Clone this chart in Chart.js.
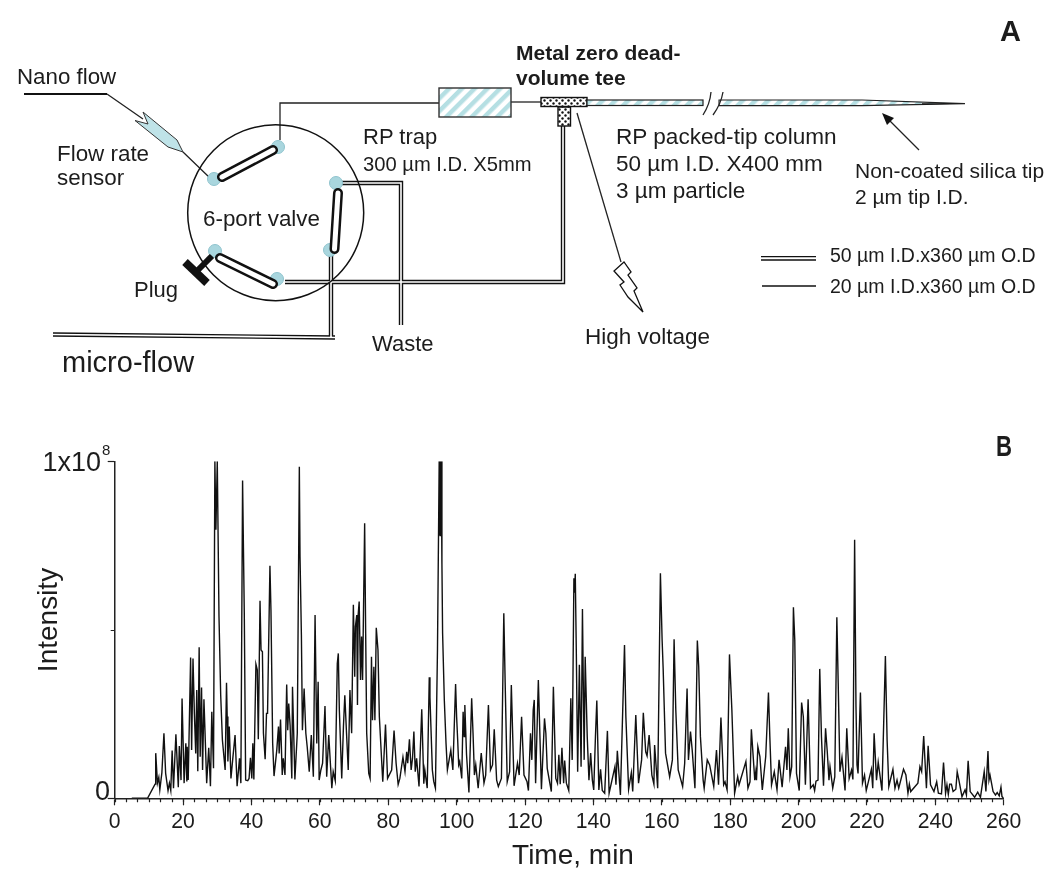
<!DOCTYPE html>
<html>
<head>
<meta charset="utf-8">
<title>Nano LC system and base peak chromatogram</title>
<script src="https://cdn.jsdelivr.net/npm/chart.js@4/dist/chart.umd.min.js"></script>
<style>
    html, body { margin: 0; padding: 0; background: #fff; }
    #page { position: relative; width: 1050px; height: 879px; overflow: hidden; }
    #chromatogram { position: absolute; left: 0; top: 0; }
    #schematic { position: absolute; left: 0; top: 0; }
    #schematic text { font-family: "Liberation Sans", Arial, sans-serif; fill: #1c1c1c; font-size: 22px; }
    .thin { fill: none; stroke: #222; stroke-width: 1.3; }
    .slot-o { fill: none; stroke: #111; stroke-width: 10; stroke-linecap: round; }
    .slot-i { fill: none; stroke: #fff; stroke-width: 5; stroke-linecap: round; }
    .port { fill: #a9d6de; stroke: #8fc3cd; stroke-width: 1; }
</style>
</head>
<body>
<div id="page">
    <canvas id="chromatogram" width="1050" height="879"></canvas>

    <!-- Panel A: plumbing diagram, not data -->
    <svg id="schematic" width="1050" height="879" viewBox="0 0 1050 879">
        <defs>
            <pattern id="hatch" width="9" height="9" patternUnits="userSpaceOnUse" patternTransform="rotate(45)">
                <rect width="4.5" height="9" fill="#b5dfe3"></rect>
            </pattern>
            <pattern id="stipple" width="6" height="6" patternUnits="userSpaceOnUse">
                <circle cx="1.5" cy="1.5" r="1.2" fill="#111"></circle>
                <circle cx="4.5" cy="4.5" r="1.2" fill="#111"></circle>
            </pattern>
            <path id="tubes" d="M340 183H401V325 M331 255V338 M53 334.5L335 337.5 M285 282H563V126"></path>
        </defs>

        <text x="1000" y="41" style="font-size:29px;font-weight:bold">A</text>
        <text x="996" y="456" textLength="16" lengthAdjust="spacingAndGlyphs" style="font-size:29px;font-weight:bold">B</text>

        <!-- nano flow line and flow sensor -->
        <path d="M24 94H107" fill="none" stroke="#111" stroke-width="2"></path>
        <path class="thin" d="M107 94L143 119 M183 152L210 178"></path>
        <path d="M135 120.5L148 124L143 112L177 140L183 152L168 147Z" fill="#bfe3e8" stroke="#333" stroke-width="1"></path>
        <text x="17" y="84" style="font-size:22.3px">Nano flow</text>
        <text x="57" y="161" style="font-size:22.4px">Flow rate</text>
        <text x="57" y="185" style="font-size:22.4px">sensor</text>

        <!-- tubing -->
        <use href="#tubes" fill="none" stroke="#111" stroke-width="4.4"></use>
        <use href="#tubes" fill="none" stroke="#fff" stroke-width="1.6"></use>
        <path class="thin" d="M280 140V103H439"></path>
        <path class="thin" d="M511 102H541"></path>

        <!-- 6-port valve -->
        <circle cx="275.7" cy="212.7" r="88" fill="none" stroke="#111" stroke-width="1.5"></circle>
        <circle class="port" cx="214" cy="179" r="6.5"></circle>
        <circle class="port" cx="278" cy="147" r="6.5"></circle>
        <circle class="port" cx="336" cy="183" r="6.5"></circle>
        <circle class="port" cx="330" cy="250" r="6.5"></circle>
        <circle class="port" cx="215" cy="251" r="6.5"></circle>
        <circle class="port" cx="277" cy="279" r="6.5"></circle>
        <path class="slot-o" d="M222 177L273 150 M338 193L334.5 249 M220 258L273 284"></path>
        <path class="slot-i" d="M222 177L273 150 M338 193L334.5 249 M220 258L273 284"></path>
        <path d="M185 262L207 283" fill="none" stroke="#111" stroke-width="8"></path>
        <path d="M197 271L212 256" fill="none" stroke="#111" stroke-width="6"></path>
        <text x="203" y="226" style="font-size:22.4px">6-port valve</text>
        <text x="134" y="297">Plug</text>
        <text x="363" y="144">RP trap</text>
        <text x="363" y="171" style="font-size:20.2px">300 µm I.D. X5mm</text>
        <text x="372" y="351">Waste</text>
        <text x="62" y="372" style="font-size:29px">micro-flow</text>

        <!-- trap, tee and column -->
        <rect x="439" y="88" width="72" height="29" fill="url(#hatch)" stroke="#333" stroke-width="1.4"></rect>
        <rect x="541" y="97.5" width="46" height="9" fill="url(#stipple)" stroke="#111" stroke-width="1.4"></rect>
        <rect x="558" y="107" width="12.5" height="19" fill="url(#stipple)" stroke="#111" stroke-width="1.4"></rect>
        <rect x="587" y="100" width="116" height="5.5" fill="url(#hatch)" stroke="#222" stroke-width="1.2"></rect>
        <path d="M719 100H862L965 103.6L862 105.6H719Z" fill="url(#hatch)" stroke="#222" stroke-width="1.1"></path>
        <path d="M922 103.2L965 103.7L922 104.6Z" fill="#111"></path>
        <path class="thin" d="M703 115Q710 104 711 92 M713 115Q721 104 723 92"></path>
        <text x="516" y="60" style="font-size:21px;font-weight:bold">Metal zero dead-</text>
        <text x="516" y="85" style="font-size:21px;font-weight:bold">volume tee</text>
        <text x="616" y="144" style="font-size:22.6px">RP packed-tip column</text>
        <text x="616" y="171" style="font-size:22.5px">50 µm I.D. X400 mm</text>
        <text x="616" y="198" style="font-size:22.5px">3 µm particle</text>

        <!-- tip arrow -->
        <path class="thin" d="M919 150L886 117"></path>
        <path d="M882 113L894 118L887 125Z" fill="#111"></path>
        <text x="855" y="178" style="font-size:21px">Non-coated silica tip</text>
        <text x="855" y="204" style="font-size:21px">2 µm tip I.D.</text>

        <!-- high voltage -->
        <path class="thin" d="M577 113L621 262"></path>
        <path d="M624 262L614 271L624 282L620 285L628 297L643 312L634 291L637 288L628 275L631 272Z" fill="#fff" stroke="#111" stroke-width="1.3"></path>
        <text x="585" y="344" style="font-size:22.5px">High voltage</text>

        <!-- tube legend -->
        <path d="M761 256.6H816 M761 260H816" fill="none" stroke="#111" stroke-width="1.4"></path>
        <path d="M762 286H816" fill="none" stroke="#111" stroke-width="1.3"></path>
        <text x="830" y="262" style="font-size:19.5px">50 µm I.D.x360 µm O.D</text>
        <text x="830" y="293" style="font-size:19.5px">20 µm I.D.x360 µm O.D</text>
    </svg>
</div>

<script>
// Elution time in minutes
const timeMin = [
    5.0, 9.6, 11.8, 12.0, 12.5, 12.9, 13.2, 13.8, 14.4, 14.9, 15.6, 16.0, 16.4, 16.8, 17.2, 17.9, 18.6, 18.9, 19.4, 19.7,
    20.3, 20.8, 21.1, 21.2, 21.5, 22.2, 22.5, 22.9, 23.3, 23.7, 24.0, 24.3, 24.7, 25.0, 25.4, 25.7, 26.1, 26.9, 27.5, 28.0,
    28.4, 28.9, 29.3, 29.6, 30.0, 30.5, 31.0, 31.5, 32.3, 32.7, 32.9, 33.1, 33.5, 34.0, 34.5, 35.2, 35.8, 36.5, 36.9, 37.4,
    37.9, 38.3, 38.9, 39.3, 39.7, 40.1, 40.4, 40.7, 41.3, 41.7, 42.0, 42.5, 42.8, 43.2, 43.5, 44.0, 44.4, 44.7, 45.4, 45.7,
    46.2, 46.6, 47.4, 47.9, 48.1, 48.5, 49.0, 49.3, 49.8, 50.3, 50.6, 50.9, 51.3, 51.8, 52.0, 52.7, 53.4, 54.0, 54.2, 54.6,
    54.9, 55.4, 55.9, 56.3, 56.9, 57.5, 58.1, 58.6, 59.1, 59.5, 59.8, 60.3, 60.8, 61.5, 62.0, 62.6, 63.5, 63.9, 64.5, 65.1,
    65.4, 65.7, 66.4, 66.9, 67.3, 67.8, 68.3, 68.8, 69.3, 69.8, 70.2, 70.4, 70.8, 71.0, 71.2, 71.5, 71.9, 72.2, 72.5, 73.1,
    73.4, 73.7, 74.3, 74.7, 75.1, 75.4, 75.8, 76.1, 76.5, 77.0, 77.4, 78.4, 79.2, 79.8, 81.0, 81.7, 82.3, 82.9, 83.4, 84.3,
    84.9, 85.4, 85.7, 86.2, 86.7, 87.1, 87.5, 87.9, 88.3, 89.0, 89.8, 90.4, 90.7, 91.4, 92.0, 92.2, 92.9, 93.3, 93.8, 94.4,
    94.9, 95.0, 95.1, 95.2, 95.3, 95.4, 95.5, 95.7, 95.9, 96.4, 96.9, 97.3, 98.3, 98.9, 99.7, 100.0, 100.3, 100.6, 100.9, 101.5,
    101.9, 102.2, 102.4, 102.9, 103.6, 104.4, 104.8, 105.2, 105.6, 106.3, 107.2, 108.0, 108.5, 109.3, 109.9, 110.5, 111.0, 111.7, 112.2, 113.1,
    113.8, 114.2, 114.8, 115.5, 116.0, 116.8, 117.8, 118.3, 119.0, 119.7, 120.6, 121.0, 121.6, 122.0, 122.4, 122.7, 123.1, 123.9, 124.8, 125.7,
    126.1, 126.5, 127.7, 128.3, 129.0, 129.5, 129.9, 130.3, 130.8, 131.3, 131.6, 132.1, 132.8, 133.4, 133.8, 134.3, 134.5, 134.7, 135.0, 135.4,
    135.9, 136.4, 136.8, 137.3, 137.6, 138.2, 138.7, 139.2, 139.7, 140.1, 140.6, 141.0, 141.6, 142.1, 142.6, 143.3, 144.1, 144.6, 146.3, 146.6,
    147.0, 147.9, 149.1, 149.5, 150.3, 151.1, 151.5, 152.4, 153.2, 154.1, 154.6, 155.3, 155.7, 156.3, 157.1, 157.7, 157.9, 158.8, 159.6, 160.1,
    160.4, 161.1, 162.3, 163.1, 163.6, 164.1, 164.8, 166.1, 166.7, 167.4, 167.8, 168.4, 168.9, 169.7, 170.4, 170.8, 171.3, 172.1, 172.4, 173.3,
    174.0, 175.2, 176.0, 176.6, 177.3, 178.1, 178.5, 179.1, 179.8, 180.5, 181.3, 182.2, 182.6, 184.6, 185.2, 185.8, 186.2, 187.2, 187.5, 187.7,
    188.1, 188.7, 189.4, 190.4, 191.2, 191.6, 192.1, 192.9, 193.7, 194.3, 195.2, 196.2, 196.6, 197.0, 197.5, 198.0, 198.5, 198.9, 199.4, 200.2,
    200.9, 201.4, 202.0, 202.8, 203.5, 204.3, 204.7, 205.1, 205.7, 206.2, 206.7, 207.3, 207.9, 208.4, 208.9, 209.2, 210.0, 210.6, 211.2, 211.6,
    212.1, 212.7, 213.6, 214.1, 214.8, 215.5, 215.9, 216.4, 216.8, 217.1, 217.4, 218.1, 218.7, 219.3, 219.8, 221.3, 221.7, 222.1, 222.8, 223.3,
    224.4, 225.4, 225.9, 226.4, 227.6, 228.2, 228.8, 229.3, 230.7, 231.4, 232.0, 232.4, 232.8, 234.9, 235.5, 236.0, 236.6, 237.4, 237.9, 238.6,
    239.6, 240.4, 240.9, 241.8, 242.4, 243.0, 243.4, 243.8, 244.2, 244.7, 245.2, 246.0, 246.4, 246.9, 247.8, 248.7, 249.1, 249.6, 250.2, 251.5,
    252.4, 253.2, 254.3, 254.8, 255.4, 255.7, 256.0, 256.9, 257.6, 258.1, 258.7, 259.2, 259.5, 260.0
];

// Base peak intensity in units of 10^6 counts (axis top is 1x10^8)
const intensity = [
    0, 0, 4.2, 13.4, 4.5, 6.2, 2.5, 7.6, 19.3, 7.4, 2.3, 4.5, 2.3, 14.2, 3.0, 19.0, 3.3, 15.5, 5.4, 29.6,
    4.5, 16.3, 5.0, 15.3, 5.4, 41.8, 14.3, 41.5, 25.2, 13.3, 32.1, 8.0, 44.8, 12.3, 32.9, 8.4, 29.4, 4.5, 15.0, 3.6,
    25.7, 8.9, 100, 79.7, 100, 54, 30.6, 17.3, 8.4, 34.3, 24.3, 10.9, 21.3, 5.9, 11.4, 18.8, 3.6, 11.9, 4.5, 94.3,
    54.9, 5.4, 5.2, 5.9, 12.0, 5.9, 16.3, 5.6, 39.8, 38.1, 17.5, 58.6, 44, 43.5, 19.3, 11.6, 25.2, 25.2, 69, 55.9,
    16.3, 6.6, 14.3, 21.3, 13.3, 23.4, 6.9, 11.9, 6.9, 33.8, 20.2, 28.1, 21.7, 5.9, 33.1, 5.6, 19.3, 98.4, 71.7, 48.5,
    20.2, 32.6, 19.3, 15.3, 7.9, 18.8, 6.4, 54.4, 16.3, 34.6, 5.4, 8.4, 10.4, 27.4, 6.4, 18.8, 3.0, 7.9, 5.2, 40,
    43, 26.2, 5.9, 21.3, 30.6, 19.3, 8.4, 32.1, 19.3, 57.4, 36.1, 51, 54.4, 27.7, 54.4, 58.4, 35.1, 48, 35.1, 81.6,
    48.9, 19.3, 7.4, 5.9, 42, 23.2, 39, 23.2, 50.6, 44, 24.2, 4.9, 21.9, 5.9, 8.4, 20.1, 10.4, 4.1, 5.9, 12.2,
    7.9, 13.8, 10.4, 17.5, 8.4, 11.9, 19.8, 7.9, 11.9, 3.5, 26.4, 4.3, 8.4, 3.0, 35.9, 30, 8.4, 5, 3.0, 44,
    100, 78, 100, 78, 100, 78, 100, 69.7, 49, 29.2, 16.3, 8.4, 14.3, 8.4, 33.9, 24.2, 17.5, 9.9, 10.9, 5.9,
    25.7, 18.3, 27.7, 12.9, 1.7, 29.7, 19.3, 6.9, 9.9, 3.0, 13.4, 4.5, 6.9, 27.7, 8.4, 9.9, 20.5, 5.4, 3.5, 5.9,
    54.9, 34.1, 4.9, 7.9, 33.6, 3.7, 10.4, 6.9, 24.2, 6.9, 4.9, 2.3, 19.3, 11.4, 26.2, 29.2, 4.5, 35.1, 2.7, 23.7,
    19.3, 8.9, 2, 33.1, 5.9, 4.5, 12.9, 4.2, 15, 4.5, 11.2, 4.5, 2.3, 29.7, 11.4, 65.3, 61, 66.6, 44, 7.9,
    39.6, 9.4, 56.2, 11.4, 42, 18.3, 5.4, 13.4, 5.4, 2.5, 18.3, 29, 2.5, 8.6, 2.3, 1.5, 20, 1.5, 9.4, 4,
    14.1, 1, 45.5, 24.2, 2.7, 7.6, 2, 24.7, 4.5, 11.4, 25.4, 13.8, 12.6, 18.8, 6.9, 4.2, 15.8, 3, 66.8, 47,
    38.6, 13.4, 6.4, 11.4, 47.2, 26.2, 8.4, 3.5, 10.4, 32.6, 11.4, 19.8, 14.3, 3, 46.8, 39.1, 18.3, 5.4, 3, 11.4,
    9.9, 3.5, 14.3, 4, 24, 4, 4.9, 2.5, 42.7, 26.2, 1.5, 6.4, 4, 10.9, 3, 4.9, 20.5, 5.4, 7.9, 5.4,
    15.3, 12.4, 2.5, 12.4, 31.4, 18.3, 4, 7.9, 2.5, 11.4, 3.3, 15.3, 8.4, 20.8, 6.4, 9.4, 56.7, 47, 7.4, 2.3,
    28.4, 24.2, 4, 29.4, 3, 4, 2.3, 5.1, 5.4, 38.4, 18.3, 3.7, 20.8, 13.8, 5.4, 9.4, 3, 6.4, 53.7, 34.1,
    7.9, 12.2, 2.3, 20.8, 5.9, 8.4, 5.6, 76.7, 27.2, 9.9, 7.4, 31.4, 4.5, 6.9, 2.3, 8.6, 3, 19.3, 5.4, 10.7,
    2.3, 42.2, 17.3, 3.5, 8.6, 3, 5.4, 3, 8.6, 6.9, 1.5, 4.2, 2, 4.5, 9.4, 7.9, 18.5, 3, 15.6, 4,
    2, 4.9, 1.5, 1.3, 10.6, 1.5, 4, 1.2, 4.2, 4.2, 2, 2.7, 7.9, 5.4, 0.5, 2.5, 1, 11.1, 2, 0.3,
    1.8, 0.3, 7.9, 2, 14, 5.4, 6.9, 2, 1, 1.7, 0.7, 3.3, 0.5, 0
];

const xMajorStep = 20;
const xMinorPerMajor = 6;
const yLabelTicks = [0, 100];
const yMinorTicks = [50];

const FONT = '"Liberation Sans", Arial, sans-serif';
const INK = '#1c1c1c';

// Chart.js has one tick length per axis, short ticks go here
const minorTicksPlugin = {
    id: 'minorTicks',
    afterDatasetsDraw(chart) {
        const { ctx, scales } = chart;
        ctx.save();
        ctx.strokeStyle = '#222';
        ctx.lineWidth = 1.2;
        ctx.beginPath();
        for (let v = 0; v < scales.x.max; v += xMajorStep / xMinorPerMajor) {
            const x = Math.round(scales.x.getPixelForValue(v)) + 0.5;
            ctx.moveTo(x, scales.x.top);
            ctx.lineTo(x, scales.x.top + 4);
        }
        yMinorTicks.forEach(v => {
            const y = Math.round(scales.y.getPixelForValue(v)) + 0.5;
            ctx.moveTo(scales.y.right, y);
            ctx.lineTo(scales.y.right - 4, y);
        });
        ctx.stroke();
        ctx.restore();
    }
};

// The y labels sit off their ticks and the axis titles off centre, the built-in ones can't do that
const axisTextPlugin = {
    id: 'axisText',
    afterDraw(chart) {
        const { ctx, scales } = chart;
        const put = (text, x, y, size, align) => {
            ctx.font = size + 'px ' + FONT;
            ctx.textAlign = align;
            ctx.fillText(text, x, y);
        };
        ctx.save();
        ctx.fillStyle = INK;
        ctx.textBaseline = 'middle';
        const top = scales.y.getPixelForValue(100);
        const bottom = scales.y.getPixelForValue(0);
        put('1x10', 101, top + 2.5, 27, 'right');
        put('8', 102, top - 10, 15, 'left');
        put('0', 110, bottom - 6, 27, 'right');
        ctx.textBaseline = 'alphabetic';
        put('Time, min', 573, 864, 28, 'center');
        ctx.translate(57, 620);
        ctx.rotate(-Math.PI / 2);
        put('Intensity', 0, 0, 28, 'center');
        ctx.restore();
    }
};

new Chart(document.getElementById('chromatogram'), {
    type: 'line',
    data: {
        datasets: [{
            label: 'Intensity',
            data: timeMin.map((t, i) => ({ x: t, y: intensity[i] })),
            borderColor: '#111',
            borderWidth: 1.4,
            pointRadius: 0,
            tension: 0,
            fill: false
        }]
    },
    options: {
        responsive: false,
        animation: false,
        layout: { padding: { left: 0, right: 46.3, top: 461.3, bottom: 0 } },
        plugins: { legend: { display: false }, tooltip: { enabled: false } },
        scales: {
            x: {
                type: 'linear',
                min: 0,
                max: 260,
                afterFit: scale => { scale.height = 80.7; },
                border: { color: '#222', width: 1.5 },
                grid: { drawOnChartArea: false, tickLength: 7, tickColor: '#222', tickWidth: 1.2 },
                ticks: {
                    stepSize: xMajorStep,
                    autoSkip: false,
                    maxRotation: 0,
                    padding: 4,
                    color: INK,
                    font: { family: FONT, size: 21.2 }
                }
            },
            y: {
                min: 0,
                max: 100,
                afterFit: scale => { scale.width = 114.7; },
                afterBuildTicks: scale => { scale.ticks = yLabelTicks.map(v => ({ value: v })); },
                border: { color: '#222', width: 1.5 },
                grid: { drawOnChartArea: false, tickLength: 7, tickWidth: 1.2, tickColor: '#222' },
                ticks: { display: false }
            }
        }
    },
    plugins: [minorTicksPlugin, axisTextPlugin]
});
</script>
</body>
</html>
